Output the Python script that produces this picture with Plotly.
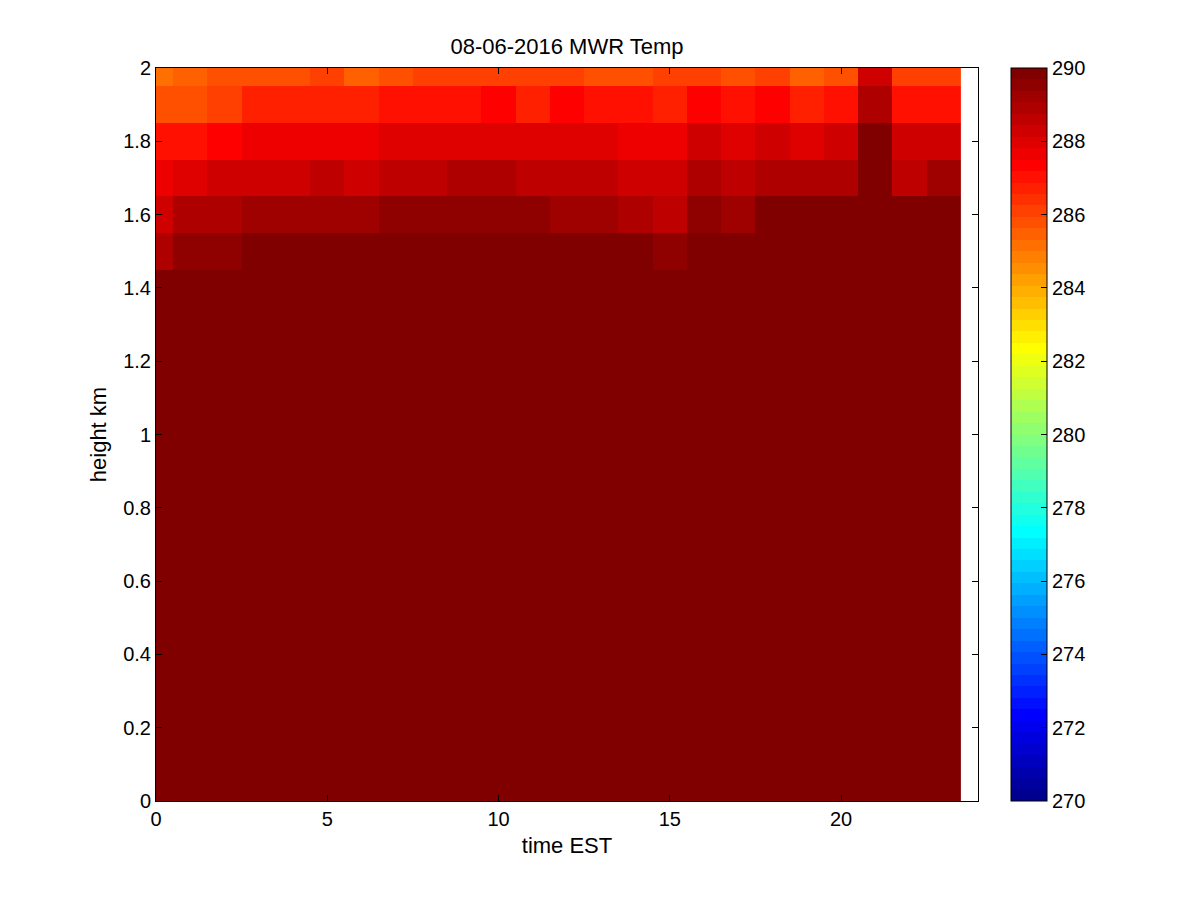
import plotly.graph_objects as go

# time EST (hour centres) and height (km)
hours = list(range(24))
heights = [round(0.1 * i, 1) for i in range(21)]

# MWR temperature (K), one row per height, bottom row first.
# Everything below 1.5 km is at/above the top of the colour range.
temp_low = [290.0] * 24
temp_15 = [289.0, 289.4, 289.5, 290.0, 290.0, 290.0, 290.0, 290.0, 290.0, 290.0, 290.0, 290.0,
           290.0, 290.0, 290.0, 289.4, 290.0, 290.0, 290.0, 290.0, 290.0, 290.0, 290.0, 290.0]
temp_16 = [288.4, 288.8, 289.0, 289.2, 289.2, 289.2, 289.2, 289.5, 289.5, 289.5, 289.5, 289.5,
           289.1, 289.1, 288.9, 288.6, 289.5, 289.2, 290.0, 290.0, 290.0, 290.0, 290.0, 290.0]
temp_17 = [287.7, 288.1, 288.3, 288.3, 288.3, 288.6, 288.3, 288.6, 288.6, 288.8, 288.8, 288.5,
           288.5, 288.5, 288.3, 288.3, 288.9, 288.5, 288.8, 288.8, 288.8, 290.0, 288.6, 289.1]
temp_18 = [287.0, 287.0, 287.3, 287.7, 287.7, 287.7, 287.7, 288.0, 288.0, 288.0, 288.0, 288.0,
           288.0, 288.0, 287.7, 287.7, 288.3, 288.0, 288.3, 287.9, 288.3, 289.9, 288.3, 288.3]
temp_19 = [285.8, 285.8, 286.1, 286.6, 286.6, 286.6, 286.6, 286.9, 286.9, 286.9, 287.3, 286.8,
           287.3, 287.0, 287.0, 286.6, 287.3, 287.0, 287.3, 286.8, 287.1, 289.0, 287.0, 287.0]
temp_20 = [285.0, 285.5, 285.7, 285.7, 285.7, 286.0, 285.6, 285.9, 286.0, 286.0, 286.2, 286.2,
           286.2, 285.8, 285.8, 286.0, 286.2, 285.9, 286.2, 285.6, 285.8, 288.3, 286.0, 286.0]

temp = [temp_low] * 15 + [temp_15, temp_16, temp_17, temp_18, temp_19, temp_20]

cbar_ticks = list(range(270, 291, 2))
x_ticks = [0, 5, 10, 15, 20]
y_ticks = [0, 0.2, 0.4, 0.6, 0.8, 1, 1.2, 1.4, 1.6, 1.8, 2]
y_ticktext = ["0", "0.2", "0.4", "0.6", "0.8", "1", "1.2", "1.4", "1.6", "1.8", "2"]

ZMIN, ZMAX = 270, 290
CB_X = 1.040  # colorbar left edge, paper coords


def jet64():
    # MATLAB jet(64) as a stepped colorscale
    m, n = 64, 16
    u = [i / n for i in range(1, n + 1)] + [1.0] * (n - 1) + [i / n for i in range(n, 0, -1)]
    cols = [[0.0, 0.0, 0.0] for _ in range(m)]
    g0 = n // 2 - (1 if m % 4 == 1 else 0)
    for k, val in enumerate(u):
        g = g0 + k + 1
        for idx, ch in ((g + n, 0), (g, 1), (g - n, 2)):
            if 1 <= idx <= m:
                cols[idx - 1][ch] = val
    scale = []
    for i, c in enumerate(cols):
        rgb = "rgb(%d,%d,%d)" % tuple(round(v * 255) for v in c)
        scale.append([i / m, rgb])
        scale.append([(i + 1) / m, rgb])
    return scale


fig = go.Figure(
    go.Heatmap(
        x=hours,
        y=heights,
        z=temp,
        zmin=ZMIN,
        zmax=ZMAX,
        colorscale=jet64(),
        colorbar=dict(
            x=CB_X,
            xanchor="left",
            y=0.5,
            yanchor="middle",
            thickness=36,
            len=733,
            lenmode="pixels",
            tickvals=cbar_ticks,
            tickprefix="\u00a0\u00a0",
            ticks="inside",
            ticklen=6,
            tickcolor="black",
            outlinecolor="black",
            outlinewidth=1,
            tickfont=dict(size=20, color="black"),
            xpad=0,
            ypad=0,
        ),
    )
)

# MATLAB colorbars also carry tick marks on the left edge
for t in cbar_ticks[1:-1]:
    yy = (t - ZMIN) / (ZMAX - ZMIN)
    fig.add_shape(type="line", xref="paper", yref="paper",
                  x0=CB_X, x1=CB_X + 6 / 822, y0=yy, y1=yy,
                  line=dict(color="black", width=1))

axis_style = dict(
    showline=True,
    linecolor="black",
    linewidth=1,
    mirror="ticks",
    ticks="inside",
    ticklen=6,
    tickcolor="black",
    showgrid=False,
    zeroline=False,
    tickfont=dict(size=20, color="black"),
)

fig.update_layout(
    width=1200,
    height=900,
    margin=dict(l=148, r=230, t=60, b=107),
    paper_bgcolor="white",
    plot_bgcolor="white",
    font=dict(family="Liberation Sans, Arial, sans-serif", size=20, color="black"),
    title=dict(text="08-06-2016 MWR Temp", x=0.5, xref="paper", xanchor="center",
               y=1 - 38 / 900, yanchor="middle", font=dict(size=22)),
    xaxis=dict(range=[0, 24], tickvals=x_ticks,
               title=dict(text="time EST", standoff=8, font=dict(size=22)), **axis_style),
    yaxis=dict(range=[0, 2], tickvals=y_ticks, ticktext=y_ticktext,
               title=dict(text="height km", standoff=10, font=dict(size=22)), **axis_style),
)

fig.write_html("out.html")
